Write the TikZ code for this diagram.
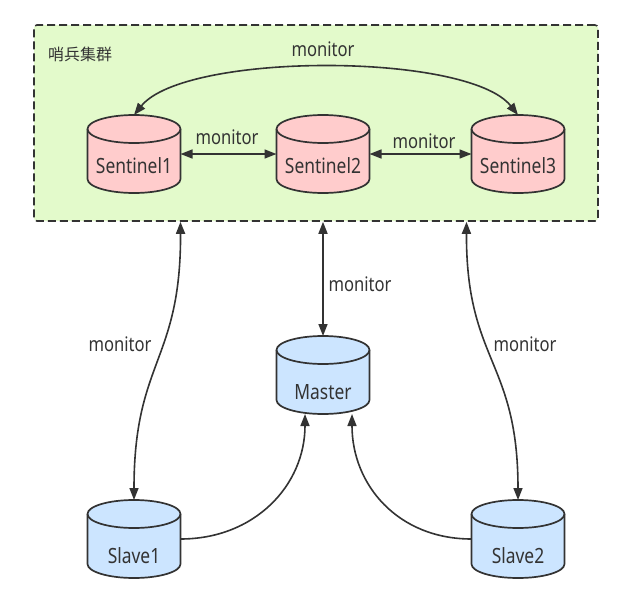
\documentclass[tikz,border=0pt]{standalone}
\usepackage{fontspec}
\setmainfont[FakeStretch=0.83]{Noto Sans}
\newfontfamily\cjkfont{Noto Sans CJK SC}
\usetikzlibrary{arrows.meta,calc}
\definecolor{ink}{HTML}{333333}
\definecolor{clusterfill}{HTML}{E3FACB}
\definecolor{redfill}{HTML}{FFCCCC}
\definecolor{bluefill}{HTML}{CCE5FF}
\tikzset{
  cylline/.style={draw=ink, line width=1.7pt},
  cylbox/.style={rectangle, minimum width=93pt, minimum height=78pt, inner sep=0pt, outer sep=0pt},
  cyltext/.style={text=ink, font=\fontsize{21}{24}\selectfont, inner sep=0pt},
  lbl/.style={text=ink, font=\fontsize{20}{23}\selectfont, inner sep=1pt},
  conn/.style={draw=ink, line width=1.6pt},
  both/.style={conn, {Triangle[length=12pt,width=9pt]}-{Triangle[length=12pt,width=9pt]}},
  one/.style={conn, -{Triangle[length=12pt,width=9pt]}},
  clusterbox/.style={draw=ink, fill=clusterfill, line width=1.6pt, dash pattern=on 8pt off 4pt,
    rounded corners=3pt, minimum width=564pt, minimum height=196pt, inner sep=0pt}
}
% #1 name, #2 cx, #3 cy, #4 fill, #5 text, #6 text offset
\newcommand\mycylinder[6]{%
  \filldraw[cylline, fill=#4] (#2-46.5,#3+25) -- (#2-46.5,#3-25)
    arc[start angle=180,end angle=360,x radius=46.5,y radius=14]
    -- (#2+46.5,#3+25)
    arc[start angle=0,end angle=180,x radius=46.5,y radius=14] -- cycle;
  \draw[cylline] (#2-46.5,#3+25) arc[start angle=180,end angle=360,x radius=46.5,y radius=14];
  \node[cylbox] (#1) at (#2,#3) {};
  \node[cyltext] (#1-label) at (#2,#3-#6) {#5};
}
\begin{document}
\begin{tikzpicture}[x=1pt,y=1pt]
\useasboundingbox (0,0) rectangle (622,-605);
\fill[white] (0,0) rectangle (622,-605);

% cluster
\node[clusterbox] (cluster) at (316,-123) {};
\node[lbl, anchor=west] (title) at (47,-54) {\cjkfont\fontsize{16}{19}\selectfont 哨兵集群};

% cylinders
\mycylinder{s1}{134}{-154}{redfill}{Sentinel1}{12}
\mycylinder{s2}{323}{-154}{redfill}{Sentinel2}{12}
\mycylinder{s3}{518}{-154}{redfill}{Sentinel3}{12}
\mycylinder{master}{323}{-375}{bluefill}{Master}{17}
\mycylinder{slave1}{134}{-539}{bluefill}{Slave1}{17}
\mycylinder{slave2}{518}{-539}{bluefill}{Slave2}{17}

% sentinel connectors
\draw[both] (s1.east) -- (s2.west);
\draw[both] (s2.east) -- (s3.west);
\draw[both] (s1.north) .. controls (185,-52) and (468,-52) .. (s3.north);
\node[lbl] (m12) at (227,-137) {monitor};
\node[lbl] (m23) at (424,-141) {monitor};
\node[lbl] (m13) at (323,-49) {monitor};

% cluster to data nodes
\coordinate (cl) at (cluster.south -| s1.east);
\coordinate (cm) at (cluster.south -| master.north);
\coordinate (cr) at ([xshift=-5pt]cluster.south -| s3.west);
\draw[both] (cl) .. controls (181,-362) and (134,-360) .. (slave1.north);
\draw[both] (cm) -- (master.north);
\draw[both] (cr) .. controls (466,-362) and (518,-360) .. (slave2.north);
\node[lbl] (ml) at (120,-344) {monitor};
\node[lbl] (mm) at (360,-284) {monitor};
\node[lbl] (mr) at (525,-344) {monitor};

% slaves to master
\coordinate (mL) at ([xshift=-18pt]master.south);
\coordinate (mR) at ([xshift=29pt]master.south);
\draw[one] (slave1.east) .. controls (255,-539) and (305,-485) .. (mL);
\draw[one] (slave2.west) .. controls (398,-539) and (352,-485) .. (mR);
\end{tikzpicture}
\end{document}
